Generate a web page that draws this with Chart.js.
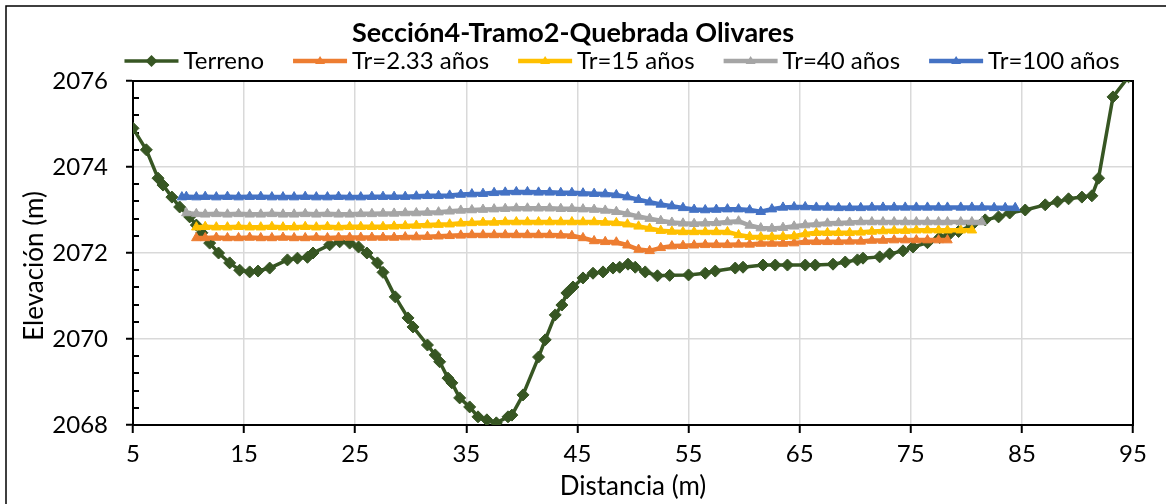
<!DOCTYPE html>
<html lang="es">
<head>
<meta charset="utf-8">
<title>Sección4-Tramo2-Quebrada Olivares</title>
<script src="https://cdn.jsdelivr.net/npm/chart.js@4.4.1/dist/chart.umd.min.js"></script>
<style>
  html, body { margin: 0; padding: 0; background: #fff; }
  #wrap { width: 1171px; height: 504px; }
</style>
</head>
<body>
<div id="wrap"><canvas id="seccion" width="1171" height="504"></canvas></div>
<script>
// Perfil transversal: terreno y niveles de agua por periodo de retorno

const chartTitle = 'Sección4-Tramo2-Quebrada Olivares';
const xAxisTitle = 'Distancia (m)';
const yAxisTitle = 'Elevación (m)';

const xTicks = [5, 15, 25, 35, 45, 55, 65, 75, 85, 95];
const yTicks = [2068, 2070, 2072, 2074, 2076];

// Terreno natural (distancia, cota)
const terrainX = [
  5.0, 6.2, 7.25, 7.7, 8.5, 9.2, 10.1, 10.7, 11.2, 11.9,
  12.7, 13.7, 14.6, 15.5, 16.25, 17.3, 18.9, 19.8, 20.7, 21.2,
  22.7, 23.6, 24.5, 25.3, 26.05, 27.0, 27.5, 28.6, 29.75, 30.2,
  31.5, 32.2, 32.6, 33.35, 33.7, 34.4, 35.3, 36.05, 36.85, 37.7,
  38.75, 39.1, 40.1, 41.5, 42.1, 43.0, 43.6, 44.05, 44.6, 45.5,
  46.4, 47.3, 48.2, 48.8, 49.55, 50.2, 51.1, 52.2, 53.3, 55.0,
  56.5, 57.4, 59.2, 59.9, 61.7, 62.8, 63.9, 65.5, 66.4, 68.0,
  69.1, 70.2, 70.7, 72.2, 73.1, 74.3, 75.2, 76.5, 77.6, 78.5,
  79.3, 80.5, 81.7, 82.9, 83.9, 85.3, 87.1, 88.2, 89.2, 90.4,
  91.3, 91.9, 93.2, 94.6
];
const terrainY = [
  2074.90, 2074.40, 2073.74, 2073.58, 2073.30, 2073.07, 2072.84, 2072.65, 2072.47, 2072.23,
  2072.00, 2071.77, 2071.60, 2071.56, 2071.58, 2071.65, 2071.84, 2071.88, 2071.90, 2072.00,
  2072.19, 2072.26, 2072.23, 2072.14, 2072.00, 2071.77, 2071.55, 2070.98, 2070.49, 2070.28,
  2069.86, 2069.63, 2069.47, 2069.09, 2068.98, 2068.63, 2068.42, 2068.19, 2068.12, 2068.05,
  2068.19, 2068.23, 2068.70, 2069.58, 2069.98, 2070.56, 2070.79, 2071.07, 2071.21, 2071.42,
  2071.53, 2071.56, 2071.65, 2071.67, 2071.74, 2071.67, 2071.56, 2071.47, 2071.48, 2071.49,
  2071.53, 2071.58, 2071.65, 2071.67, 2071.72, 2071.72, 2071.72, 2071.72, 2071.72, 2071.74,
  2071.79, 2071.84, 2071.88, 2071.91, 2071.98, 2072.05, 2072.14, 2072.24, 2072.36, 2072.44,
  2072.50, 2072.65, 2072.77, 2072.84, 2072.93, 2073.00, 2073.12, 2073.19, 2073.26, 2073.30,
  2073.33, 2073.74, 2075.63, 2076.10
];

// Estaciones del eje hidráulico (comunes a los cuatro caudales)
const wsStations = [
  9.4, 9.8, 10.7, 11.5, 12.5, 13.5, 14.5, 15.5, 16.5, 17.5,
  18.5, 19.5, 20.5, 21.5, 22.5, 23.5, 24.5, 25.5, 26.5, 27.5,
  28.5, 29.5, 30.5, 31.5, 32.5, 33.5, 34.5, 35.5, 36.5, 37.5,
  38.5, 39.5, 40.5, 41.5, 42.5, 43.5, 44.5, 45.5, 46.5, 47.5,
  48.5, 49.5, 50.5, 51.5, 52.5, 53.5, 54.5, 55.5, 56.5, 57.5,
  58.5, 59.5, 60.5, 61.5, 62.5, 63.5, 64.5, 65.5, 66.5, 67.5,
  68.5, 69.5, 70.5, 71.5, 72.5, 73.5, 74.5, 75.5, 76.5, 77.5,
  78.3, 79.5, 80.5, 81.4, 82.5, 83.5, 84.4
];

const wsTr233 = [
  null, null, 2072.35, 2072.35, 2072.36, 2072.35, 2072.35, 2072.36, 2072.35, 2072.35,
  2072.36, 2072.35, 2072.35, 2072.36, 2072.35, 2072.36, 2072.36, 2072.36, 2072.36, 2072.36,
  2072.36, 2072.37, 2072.37, 2072.38, 2072.39, 2072.40, 2072.41, 2072.42, 2072.42, 2072.42,
  2072.42, 2072.42, 2072.42, 2072.42, 2072.42, 2072.41, 2072.40, 2072.35, 2072.28, 2072.26,
  2072.25, 2072.18, 2072.08, 2072.05, 2072.12, 2072.16, 2072.17, 2072.18, 2072.19, 2072.19,
  2072.19, 2072.20, 2072.20, 2072.22, 2072.22, 2072.22, 2072.23, 2072.26, 2072.26, 2072.26,
  2072.26, 2072.27, 2072.27, 2072.29, 2072.29, 2072.30, 2072.30, 2072.30, 2072.30, 2072.30,
  2072.30, null, null, null, null, null, null
];
const wsTr15 = [
  null, null, 2072.60, 2072.61, 2072.60, 2072.60, 2072.61, 2072.60, 2072.60, 2072.61,
  2072.60, 2072.60, 2072.61, 2072.60, 2072.61, 2072.60, 2072.61, 2072.61, 2072.61, 2072.61,
  2072.62, 2072.63, 2072.64, 2072.65, 2072.66, 2072.67, 2072.69, 2072.70, 2072.71, 2072.71,
  2072.72, 2072.72, 2072.72, 2072.72, 2072.72, 2072.72, 2072.72, 2072.72, 2072.72, 2072.71,
  2072.70, 2072.67, 2072.62, 2072.57, 2072.52, 2072.50, 2072.49, 2072.49, 2072.49, 2072.49,
  2072.49, 2072.42, 2072.38, 2072.37, 2072.37, 2072.38, 2072.39, 2072.44, 2072.47, 2072.47,
  2072.47, 2072.47, 2072.48, 2072.50, 2072.51, 2072.52, 2072.52, 2072.53, 2072.53, 2072.53,
  2072.53, 2072.53, 2072.53, null, null, null, null
];
const wsTr40 = [
  null, 2072.93, 2072.91, 2072.90, 2072.91, 2072.90, 2072.91, 2072.90, 2072.90, 2072.91,
  2072.90, 2072.90, 2072.91, 2072.90, 2072.91, 2072.90, 2072.90, 2072.91, 2072.91, 2072.92,
  2072.92, 2072.93, 2072.93, 2072.94, 2072.95, 2072.97, 2072.99, 2073.00, 2073.01, 2073.02,
  2073.03, 2073.04, 2073.04, 2073.04, 2073.04, 2073.03, 2073.03, 2073.02, 2073.01, 2072.99,
  2072.96, 2072.91, 2072.85, 2072.80, 2072.75, 2072.71, 2072.69, 2072.68, 2072.69, 2072.70,
  2072.72, 2072.74, 2072.64, 2072.58, 2072.57, 2072.59, 2072.62, 2072.65, 2072.67, 2072.69,
  2072.70, 2072.71, 2072.72, 2072.72, 2072.72, 2072.72, 2072.72, 2072.72, 2072.72, 2072.72,
  2072.72, 2072.72, 2072.72, 2072.72, null, null, null
];
const wsTr100 = [
  2073.30, 2073.31, 2073.30, 2073.31, 2073.30, 2073.31, 2073.30, 2073.31, 2073.31, 2073.30,
  2073.30, 2073.30, 2073.31, 2073.30, 2073.30, 2073.31, 2073.30, 2073.30, 2073.31, 2073.31,
  2073.31, 2073.31, 2073.32, 2073.33, 2073.33, 2073.34, 2073.36, 2073.37, 2073.38, 2073.40,
  2073.41, 2073.42, 2073.42, 2073.41, 2073.41, 2073.40, 2073.40, 2073.39, 2073.38, 2073.37,
  2073.35, 2073.30, 2073.24, 2073.18, 2073.13, 2073.09, 2073.05, 2073.01, 2073.00, 2073.01,
  2073.02, 2073.02, 2073.00, 2072.96, 2073.02, 2073.06, 2073.07, 2073.07, 2073.06, 2073.06,
  2073.05, 2073.05, 2073.05, 2073.06, 2073.06, 2073.06, 2073.06, 2073.06, 2073.06, 2073.06,
  2073.06, 2073.06, 2073.06, 2073.06, 2073.05, 2073.05, 2073.05
];

const FONT = 'Lato, "Open Sans", sans-serif';
const GRID = '#d9d9d9';

const toPoints = (xs, ys) => xs.map((x, i) => ({ x, y: ys[i] }));

function waterSet(label, ys, color, order) {
  return {
    label,
    data: toPoints(wsStations, ys),
    borderColor: color,
    backgroundColor: color,
    borderWidth: 4.5,
    pointStyle: 'triangle',
    pointRadius: 5.5,
    pointBorderWidth: 1,
    spanGaps: false,
    order
  };
}

const datasets = [
  {
    label: 'Terreno',
    data: toPoints(terrainX, terrainY),
    borderColor: '#375623',
    backgroundColor: '#375623',
    borderWidth: 3.5,
    pointStyle: 'rectRot',
    pointRadius: 6,
    pointBorderWidth: 1,
    order: 5
  },
  waterSet('Tr=2.33 años', wsTr233, '#ED7D31', 4),
  waterSet('Tr=15 años', wsTr15, '#FFC000', 3),
  waterSet('Tr=40 años', wsTr40, '#A5A5A5', 2),
  waterSet('Tr=100 años', wsTr100, '#4472C4', 1)
];

// little marker helpers for the hand-drawn legend
function drawMarker(ctx, style, x, y, color) {
  ctx.save();
  ctx.fillStyle = color;
  ctx.beginPath();
  if (style === 'rectRot') {
    const r = 6;
    ctx.moveTo(x, y - r); ctx.lineTo(x + r, y); ctx.lineTo(x, y + r); ctx.lineTo(x - r, y);
  } else {
    const r = 5;
    ctx.moveTo(x, y - r); ctx.lineTo(x + r, y + r * 0.6); ctx.lineTo(x - r, y + r * 0.6);
  }
  ctx.closePath();
  ctx.fill();
  ctx.restore();
}

const excelLook = {
  id: 'excelLook',
  beforeDraw(chart) {
    const { ctx, width } = chart;
    ctx.save();
    ctx.fillStyle = '#fff';
    ctx.fillRect(0, 0, width, chart.height);
    // chart frame (left and top edges visible)
    ctx.strokeStyle = '#000';
    ctx.lineWidth = 1.5;
    ctx.beginPath();
    ctx.moveTo(6, chart.height + 5);
    ctx.lineTo(6, 6);
    ctx.lineTo(1166, 6);
    ctx.stroke();
    ctx.restore();
  },
  beforeDatasetsDraw(chart) {
    const { ctx, chartArea: a, scales } = chart;
    ctx.save();
    // minor ticks inside the value axis
    ctx.strokeStyle = '#000';
    ctx.lineWidth = 2;
    ctx.beginPath();
    for (let v = 2068; v < 2076.01; v += 0.4) {
      const rounded = Math.round(v * 10) / 10;
      if (yTicks.includes(rounded)) continue;
      const py = Math.round(scales.y.getPixelForValue(rounded));
      ctx.moveTo(a.left, py);
      ctx.lineTo(a.left + 6, py);
    }
    ctx.stroke();
    // plot border
    ctx.lineWidth = 2;
    ctx.strokeRect(a.left, a.top, a.right - a.left, a.bottom - a.top);
    ctx.restore();
  },
  afterDraw(chart) {
    const { ctx, chartArea: a } = chart;
    ctx.save();
    ctx.fillStyle = '#000';
    ctx.textBaseline = 'alphabetic';

    // title
    ctx.font = 'bold 27px ' + FONT;
    ctx.textAlign = 'center';
    ctx.fillText(chartTitle, 573, 42);

    // legend: line + marker, then label
    ctx.font = '24px ' + FONT;
    ctx.textAlign = 'left';
    const lineLen = 54, textGap = 5, itemGap = 29;
    const widths = datasets.map(d => lineLen + textGap + ctx.measureText(d.label).width);
    const total = widths.reduce((s, w) => s + w, 0) + itemGap * (datasets.length - 1);
    let x = 622 - total / 2;
    const ly = 61;
    datasets.forEach((d, i) => {
      ctx.strokeStyle = d.borderColor;
      ctx.lineWidth = d.borderWidth;
      ctx.beginPath();
      ctx.moveTo(x, ly);
      ctx.lineTo(x + lineLen, ly);
      ctx.stroke();
      drawMarker(ctx, d.pointStyle, x + lineLen / 2, ly, d.borderColor);
      ctx.fillText(d.label, x + lineLen + textGap, 69);
      x += widths[i] + itemGap;
    });

    // axis titles
    ctx.font = '26px ' + FONT;
    ctx.textAlign = 'center';
    ctx.fillText(xAxisTitle, (a.left + a.right) / 2, 495);
    ctx.translate(43, 266);
    ctx.rotate(-Math.PI / 2);
    ctx.fillText(yAxisTitle, 0, 0);
    ctx.restore();
  }
};

new Chart(document.getElementById('seccion'), {
  type: 'line',
  data: { datasets },
  plugins: [excelLook],
  options: {
    responsive: false,
    animation: false,
    devicePixelRatio: 1,
    layout: { padding: { left: 0, top: 81, right: 38, bottom: 0 } },
    elements: { line: { tension: 0, borderJoinStyle: 'round' } },
    plugins: {
      legend: { display: false },
      title: { display: false },
      tooltip: { enabled: false }
    },
    scales: {
      x: {
        type: 'linear',
        min: 5,
        max: 95,
        afterBuildTicks: axis => { axis.ticks = xTicks.map(v => ({ value: v })); },
        afterFit: scale => { scale.height = 79; },
        ticks: { color: '#000', font: { family: FONT, size: 24 }, padding: 7, maxRotation: 0, callback: v => String(v) },
        grid: { color: GRID, lineWidth: 1.5, tickColor: '#000', tickLength: 8, tickWidth: 2 },
        border: { color: '#000', width: 2 }
      },
      y: {
        type: 'linear',
        min: 2068,
        max: 2076,
        afterBuildTicks: axis => { axis.ticks = yTicks.map(v => ({ value: v })); },
        afterFit: scale => { scale.width = 133; },
        ticks: { color: '#000', font: { family: FONT, size: 24 }, padding: 18, callback: v => String(v) },
        grid: { color: GRID, lineWidth: 1.5, tickColor: '#000', tickLength: 7, tickWidth: 2 },
        border: { color: '#000', width: 2 }
      }
    }
  }
});
</script>
</body>
</html>
